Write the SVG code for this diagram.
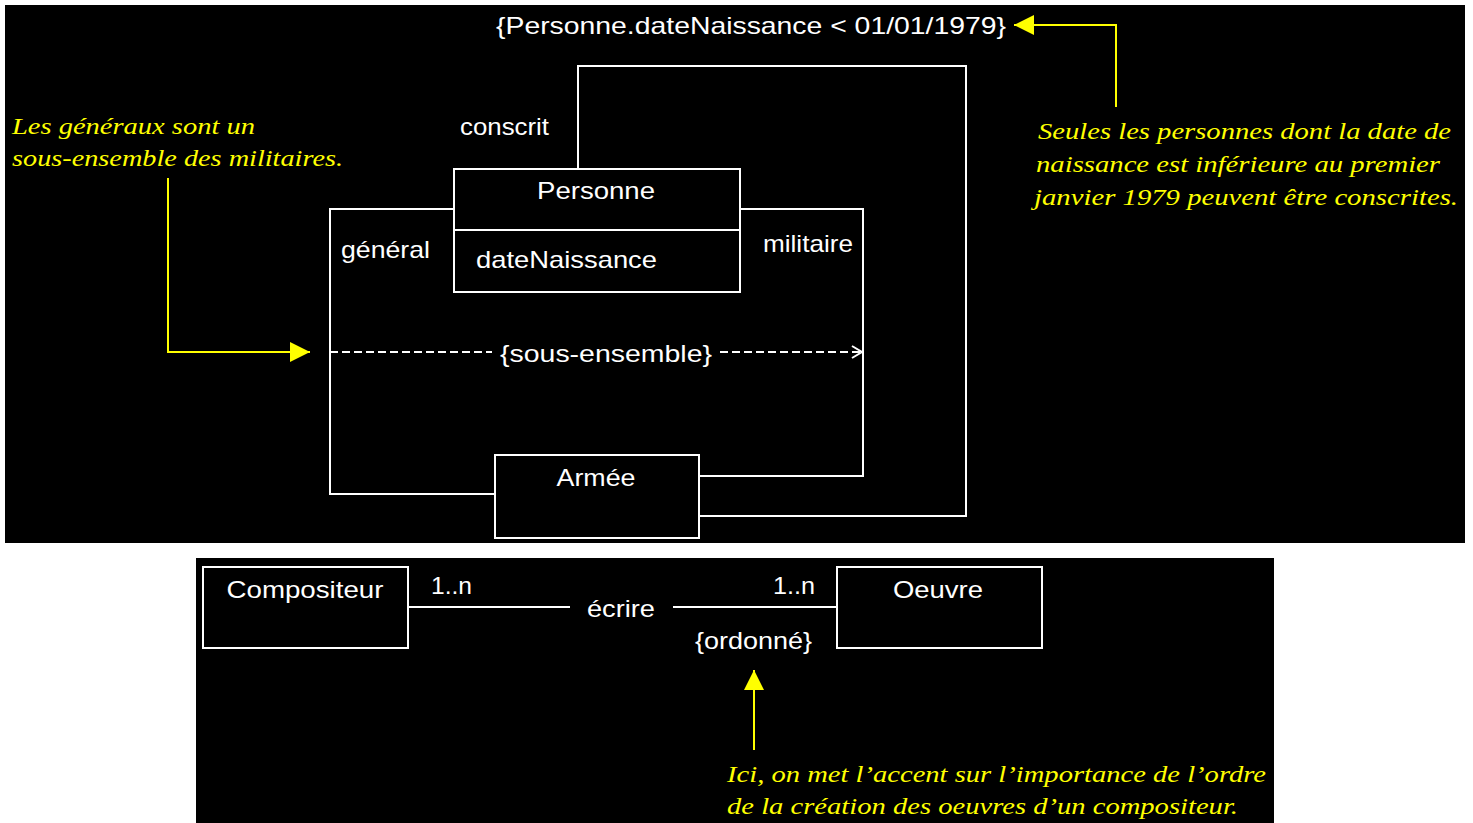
<svg xmlns="http://www.w3.org/2000/svg" width="1473" height="823" viewBox="0 0 1473 823">
<defs>
<style>
.w{fill:#fff;font-family:"Liberation Sans",Arial,sans-serif;font-size:24px}
.y{fill:#ffff00;font-family:"Liberation Serif","Times New Roman",serif;font-style:italic;font-size:23px}
.box{fill:none;stroke:#fff;stroke-width:2}
.ln{fill:none;stroke:#fff;stroke-width:2}
.yl{fill:none;stroke:#ffff00;stroke-width:2}
.dash{fill:none;stroke:#fff;stroke-width:2;stroke-dasharray:8,4}
</style>
<marker id="open" markerWidth="14" markerHeight="14" refX="12" refY="7" orient="auto" markerUnits="userSpaceOnUse">
<path d="M2,1 L12,7 L2,13" fill="none" stroke="#fff" stroke-width="2"/>
</marker>
<marker id="ytri" markerWidth="22" markerHeight="22" refX="20" refY="11" orient="auto" markerUnits="userSpaceOnUse">
<path d="M0,1 L20,11 L0,21 Z" fill="#ffff00"/>
</marker>
</defs>
<rect width="1473" height="823" fill="#fff"/>
<rect x="5" y="5" width="1460" height="538" fill="#000"/>
<rect x="196" y="558" width="1078" height="265" fill="#000"/>

<g id="connectors">
<polyline class="ln" points="578,169 578,66 966,66 966,516 699,516"/>
<polyline class="ln" points="454,209 330,209 330,494 495,494"/>
<polyline class="ln" points="740,209 863,209 863,476 699,476"/>
<line class="dash" x1="330" y1="352" x2="492" y2="352"/>
<line class="dash" x1="720" y1="352" x2="862" y2="352" marker-end="url(#open)"/>
<line class="ln" x1="408" y1="607" x2="570" y2="607"/>
<line class="ln" x1="673" y1="607" x2="837" y2="607"/>
<polyline class="yl" points="168,178 168,352 310,352" marker-end="url(#ytri)"/>
<polyline class="yl" points="1116,107 1116,25 1014,25" marker-end="url(#ytri)"/>
<polyline class="yl" points="754,750 754,670" marker-end="url(#ytri)"/>
</g>

<g id="labels">
<text class="w" x="496" y="34" textLength="510" lengthAdjust="spacingAndGlyphs">{Personne.dateNaissance &lt; 01/01/1979}</text>
<text class="w" x="460" y="135" textLength="89" lengthAdjust="spacingAndGlyphs">conscrit</text>
<text class="w" x="341" y="258" textLength="89" lengthAdjust="spacingAndGlyphs">général</text>
<text class="w" x="763" y="252" textLength="90" lengthAdjust="spacingAndGlyphs">militaire</text>
<text class="w" x="500" y="362" textLength="212" lengthAdjust="spacingAndGlyphs">{sous-ensemble}</text>
<text class="w" x="431" y="594" textLength="41" lengthAdjust="spacingAndGlyphs">1..n</text>
<text class="w" x="773" y="594" textLength="42" lengthAdjust="spacingAndGlyphs">1..n</text>
<text class="w" x="587" y="617" textLength="68" lengthAdjust="spacingAndGlyphs">écrire</text>
<text class="w" x="695" y="649" textLength="117" lengthAdjust="spacingAndGlyphs">{ordonné}</text>
</g>

<g id="note-generaux">
<text class="y" x="12" y="134" textLength="243" lengthAdjust="spacingAndGlyphs">Les généraux sont un</text>
<text class="y" x="12" y="166" textLength="331" lengthAdjust="spacingAndGlyphs">sous-ensemble des militaires.</text>
</g>

<g id="note-conscrits">
<text class="y" x="1038" y="139" textLength="413" lengthAdjust="spacingAndGlyphs">Seules les personnes dont la date de</text>
<text class="y" x="1036" y="172" textLength="404" lengthAdjust="spacingAndGlyphs">naissance est inférieure au premier</text>
<text class="y" x="1034" y="205" textLength="424" lengthAdjust="spacingAndGlyphs">janvier 1979 peuvent être conscrites.</text>
</g>

<g id="note-ordre">
<text class="y" x="727" y="782" textLength="539" lengthAdjust="spacingAndGlyphs">Ici, on met l’accent sur l’importance de l’ordre</text>
<text class="y" x="727" y="814" textLength="511" lengthAdjust="spacingAndGlyphs">de la création des oeuvres d’un compositeur.</text>
</g>

<g id="Personne">
<rect class="box" x="454" y="169" width="286" height="123" fill="#000"/>
<line class="ln" x1="454" y1="230" x2="740" y2="230"/>
<text class="w" x="596" y="199" text-anchor="middle" textLength="118" lengthAdjust="spacingAndGlyphs">Personne</text>
<text class="w" x="476" y="268" textLength="181" lengthAdjust="spacingAndGlyphs">dateNaissance</text>
</g>

<g id="Armee">
<rect class="box" x="495" y="455" width="204" height="83" fill="#000"/>
<text class="w" x="596" y="486" text-anchor="middle" textLength="79" lengthAdjust="spacingAndGlyphs">Armée</text>
</g>

<g id="Compositeur">
<rect class="box" x="203" y="567" width="205" height="81" fill="#000"/>
<text class="w" x="305" y="598" text-anchor="middle" textLength="157" lengthAdjust="spacingAndGlyphs">Compositeur</text>
</g>

<g id="Oeuvre">
<rect class="box" x="837" y="567" width="205" height="81" fill="#000"/>
<text class="w" x="938" y="598" text-anchor="middle" textLength="90" lengthAdjust="spacingAndGlyphs">Oeuvre</text>
</g>
</svg>
